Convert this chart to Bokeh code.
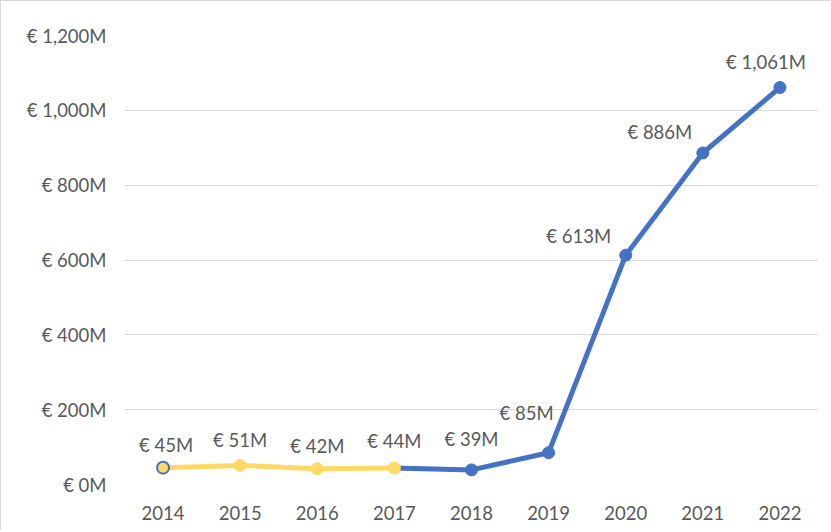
from bokeh.plotting import figure
from bokeh.models import ColumnDataSource, Range1d, FixedTicker, CustomJSTickFormatter
from bokeh.embed import file_html
from bokeh.resources import INLINE
from bokeh.core.properties import value

years = [2014, 2015, 2016, 2017, 2018, 2019, 2020, 2021, 2022]
amounts = [45, 51, 42, 44, 39, 85, 613, 886, 1061]
labels = ["€ 45M", "€ 51M", "€ 42M", "€ 44M", "€ 39M", "€ 85M", "€ 613M", "€ 886M", "€ 1,061M"]
y_ticks = [0, 200, 400, 600, 800, 1000, 1200]

BLUE = "#4472C4"
GOLD = "#FFD966"
TXT = "#595959"
FONT = "Lato"
FS = "18.5px"

# label placement (style)
label_dx = [3, 0, 0, 0, 0, -22, -47, -43, -14]
label_dy = [23, 25, 23, 27, 31, 40, 19, 21, 26]

p = figure(width=830, height=530, output_backend="svg", toolbar_location=None,
           x_range=Range1d(2013.5, 2022.5), y_range=Range1d(0, 1200),
           min_border_left=123, min_border_right=13, min_border_top=34, min_border_bottom=47)
p.outline_line_color = None
p.styles = {"border-left": "1px solid #d9d9d9", "border-top": "1px solid #d9d9d9"}

p.xgrid.grid_line_color = None
p.ygrid.grid_line_color = "#d9d9d9"
p.ygrid.grid_line_width = 1.2

p.xaxis.ticker = FixedTicker(ticks=years)
p.yaxis.ticker = FixedTicker(ticks=y_ticks)
p.yaxis.formatter = CustomJSTickFormatter(code="return '€ ' + tick.toLocaleString('en-US') + 'M';")
for ax in (p.xaxis[0], p.yaxis[0]):
    ax.axis_line_color = None
    ax.major_tick_line_color = None
    ax.minor_tick_line_color = None
    ax.major_label_text_color = TXT
    ax.major_label_text_font = FONT
    ax.major_label_text_font_size = FS
p.xaxis.major_label_standoff = 15
p.yaxis.major_label_standoff = 12

# yellow segment 2014-2017, blue 2017-2022
p.line(years[:4], amounts[:4], line_color=GOLD, line_width=5)
p.line(years[3:], amounts[3:], line_color=BLUE, line_width=5)

p.scatter(years[1:4], amounts[1:4], size=12, fill_color=GOLD, line_color=GOLD)
p.scatter(years[4:], amounts[4:], size=12, fill_color=BLUE, line_color=BLUE)
p.scatter(years[:1], amounts[:1], size=12, fill_color=GOLD, line_color=BLUE, line_width=2)

src = ColumnDataSource(dict(x=years, y=amounts, t=labels, dx=label_dx, dy=[-d for d in label_dy]))
p.text(x="x", y="y", text="t", x_offset="dx", y_offset="dy", source=src,
       text_align="center", text_baseline="middle", text_color=TXT,
       text_font=value(FONT), text_font_size=FS)

open("out.html", "w").write(file_html(p, INLINE))
